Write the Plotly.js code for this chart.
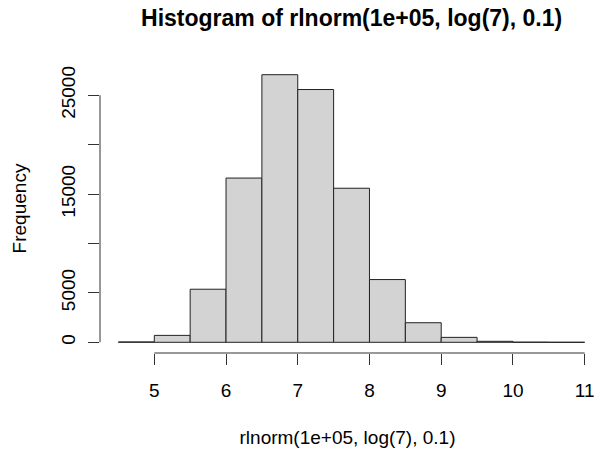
<!DOCTYPE html>
<html><head><meta charset="utf-8">
<script src="https://cdn.plot.ly/plotly-3.0.1.min.js"></script>
<style>html,body{margin:0;padding:0;background:#fff}</style>
</head><body><div id="chart" style="width:595px;height:452px"></div>
<script>
const breaks = [4.5,5,5.5,6,6.5,7,7.5,8,8.5,9,9.5,10,10.5,11];
const counts = [38,700,5370,16620,27080,25580,15590,6350,1980,500,100,15,3];
const xTicks = [5,6,7,8,9,10,11];
const yTicks = [0,5000,10000,15000,20000,25000];
const yTickText = ['0','5000','','15000','','25000'];

const mids = counts.map((_, i) => (breaks[i] + breaks[i+1]) / 2);
const widths = counts.map((_, i) => breaks[i+1] - breaks[i]);
const ymax = Math.max(...counts);
const FONT = 'Liberation Sans, Arial, sans-serif';
const AX = '#333333';

const xRange = [4.243, 11.144];
const yRange = [-0.04*ymax, 1.04*ymax];
const toPx = (v, r) => (v - r[0]) / (r[1] - r[0]);

const trace = {
  type: 'bar', x: mids, y: counts, width: widths,
  marker: {color: '#D3D3D3', line: {color: '#222222', width: 1}},
  hoverinfo: 'x+y'
};

const layout = {
  width: 595, height: 452,
  margin: {l: 100, r: 0, t: 64, b: 99},
  paper_bgcolor: '#ffffff', plot_bgcolor: '#ffffff',
  showlegend: false,
  font: {family: FONT, size: 19, color: '#000000'},
  title: {text: 'Histogram of rlnorm(1e+05, log(7), 0.1)',
    font: {family: FONT, size: 23, color: '#000000', weight: 'bold'},
    xref: 'container', x: 351.6/595, xanchor: 'center',
    yref: 'container', y: 1 - 18/452, yanchor: 'middle'},
  xaxis: {
    range: xRange, showgrid: false, zeroline: false, showline: false,
    tickmode: 'array', tickvals: xTicks, ticktext: xTicks.map(String),
    ticks: 'outside', ticklen: 11, tickwidth: 1, tickcolor: AX, ticklabelstandoff: 9,
    tickfont: {family: FONT, size: 19, color: '#000000'},
    title: {text: 'rlnorm(1e+05, log(7), 0.1)', font: {family: FONT, size: 19, color: '#000000'}, standoff: 30},
    automargin: false, fixedrange: true
  },
  yaxis: {
    range: yRange, showgrid: false, zeroline: false, showline: false,
    tickmode: 'array', tickvals: yTicks, ticktext: yTickText,
    ticks: 'outside', ticklen: 11, tickwidth: 1, tickcolor: AX, tickangle: -90, ticklabelstandoff: 5,
    tickfont: {family: FONT, size: 19, color: '#000000'},
    title: {text: 'Frequency', font: {family: FONT, size: 19, color: '#000000'}, standoff: 26},
    automargin: false, fixedrange: true
  },
  shapes: [
    {type: 'line', xref: 'paper', yref: 'paper',
     x0: toPx(xTicks[0], xRange), x1: toPx(xTicks[xTicks.length-1], xRange), y0: 0, y1: 0,
     line: {color: AX, width: 1}},
    {type: 'line', xref: 'paper', yref: 'paper', x0: 0, x1: 0,
     y0: toPx(yTicks[0], yRange), y1: toPx(yTicks[yTicks.length-1], yRange),
     line: {color: AX, width: 1}}
  ]
};

Plotly.newPlot('chart', [trace], layout, {displayModeBar: false, staticPlot: true});
</script></body></html>
